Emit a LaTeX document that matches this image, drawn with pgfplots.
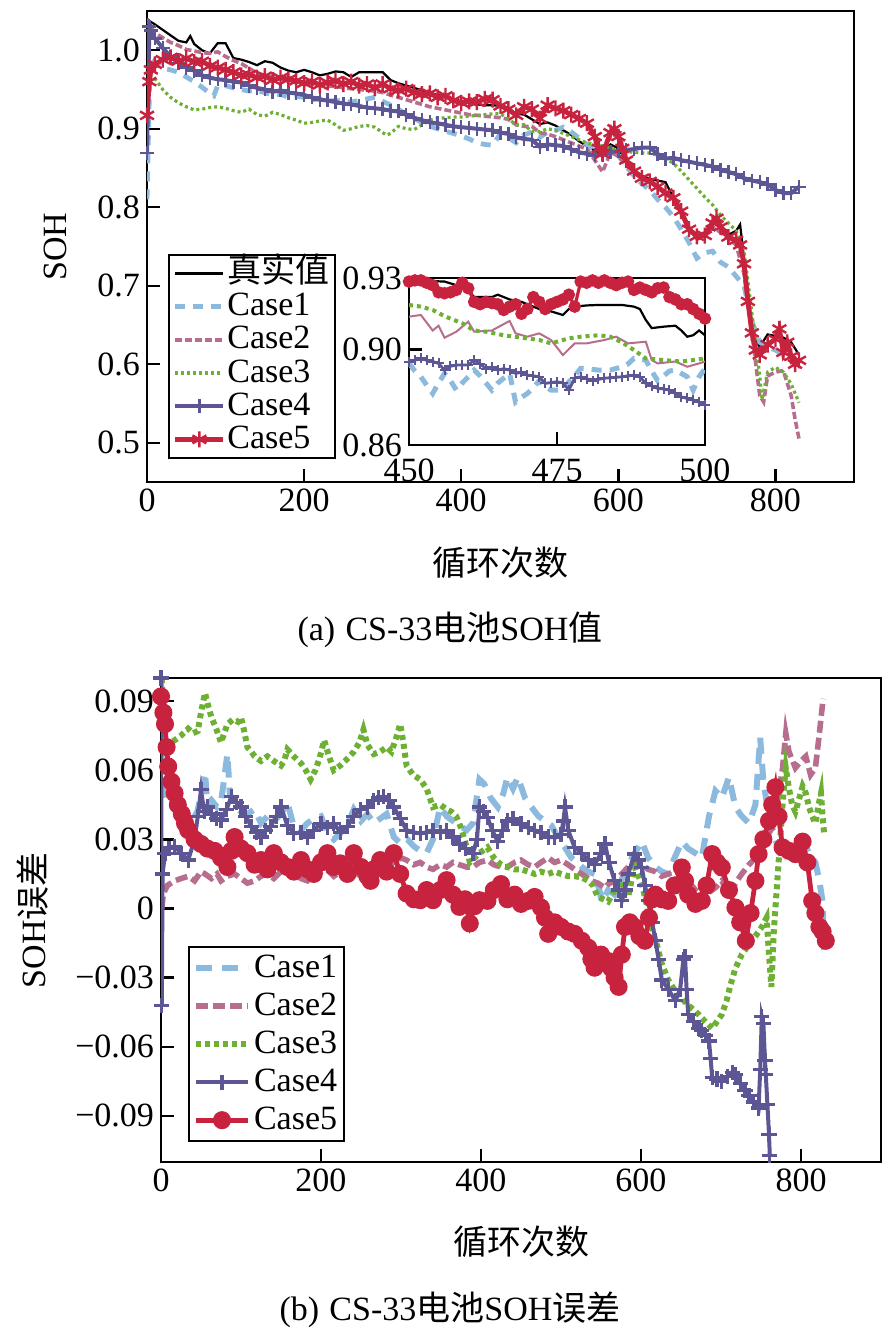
\documentclass[border=0pt]{standalone}
\usepackage{fontspec}
\setmainfont{Liberation Serif}
\newfontfamily\cjk{Noto Sans CJK SC}
\usepackage{pgfplots}
\pgfplotsset{compat=1.18}
\usepackage{pgfplotstable}

\definecolor{cA}{RGB}{140,186,222}
\definecolor{cB}{RGB}{183,110,142}
\definecolor{cC}{RGB}{110,176,52}
\definecolor{cD}{RGB}{92,86,148}
\definecolor{cE}{RGB}{200,35,62}
\newcommand{\fs}{\fontsize{17pt}{19pt}\selectfont}

\pgfplotstableread{
x T c1 c2 c3 c4 c5
0 1.040 0.810 1.040 nan 0.869 0.917
2 nan 0.900 nan 0.965 nan nan
3 nan nan nan nan 1.030 0.960
4 nan 0.990 nan nan nan nan
5 1.036 nan 1.030 nan 1.025 0.975
10 1.033 0.985 1.022 0.964 1.015 0.982
20 1.026 0.977 1.016 0.950 1.003 0.988
30 1.019 0.975 1.010 0.940 0.992 0.991
40 1.012 0.972 1.006 0.933 0.984 0.986
50 1.010 0.966 1.001 0.928 0.978 0.990
55 1.018 nan nan nan nan nan
60 1.008 0.960 0.999 0.924 0.974 0.985
70 1.000 0.953 0.997 0.925 0.968 0.986
80 0.996 0.945 0.996 0.927 0.965 0.980
85 nan 0.942 nan nan nan nan
90 1.009 0.955 0.998 0.928 0.963 0.978
100 1.009 0.955 0.992 0.926 0.962 0.975
110 0.990 0.952 0.987 0.923 0.960 0.972
120 0.988 0.950 0.983 0.921 0.959 0.968
130 0.985 0.948 0.977 0.925 0.955 0.969
140 0.981 0.949 0.971 0.918 0.952 0.965
150 0.986 0.946 0.968 0.916 0.950 0.967
160 0.984 0.943 0.966 0.921 0.947 0.962
170 0.978 0.944 0.964 0.918 0.949 0.965
180 0.974 0.940 0.962 0.914 0.946 0.963
190 0.972 0.941 0.960 0.911 0.945 0.961
200 0.975 0.940 0.959 0.907 0.943 0.958
210 0.972 0.937 0.957 0.908 0.940 0.960
220 0.968 0.938 0.955 0.910 0.937 0.956
230 0.970 0.935 0.954 0.911 0.936 0.959
240 0.973 0.936 0.954 0.905 0.934 0.961
250 0.972 0.935 0.952 0.898 0.932 0.957
260 0.966 0.934 0.951 0.900 0.931 0.960
270 0.972 0.936 0.950 0.903 0.929 0.955
280 0.972 0.938 0.949 0.904 0.927 0.957
290 0.972 0.940 0.948 0.902 0.926 0.952
300 0.972 0.935 0.946 0.895 0.925 0.957
305 nan nan nan 0.892 nan nan
310 0.962 0.930 0.943 0.894 0.923 0.951
320 0.958 0.925 0.940 0.903 0.922 0.949
330 0.955 0.918 0.937 0.900 0.918 0.951
340 0.952 0.913 0.934 0.899 0.914 0.946
350 0.949 0.908 0.931 0.905 0.911 0.944
360 0.946 0.903 0.928 0.911 0.908 0.945
370 0.943 0.900 0.926 0.913 0.907 0.940
380 0.941 0.897 0.924 0.914 0.905 0.942
390 0.938 0.894 0.922 0.915 0.903 0.936
400 0.935 0.891 0.920 0.915 0.902 0.933
410 0.933 0.887 0.918 0.916 0.901 0.935
420 0.931 0.882 0.917 0.917 0.900 0.934
430 0.930 0.880 0.916 0.918 0.899 0.938
440 0.930 0.879 0.915 0.919 0.898 0.937
450 0.929 0.894 0.914 0.919 0.895 0.929
460 0.925 0.889 0.912 0.9125 0.8935 0.925
470 0.919 0.882 0.905 0.905 0.889 0.917
480 0.918 0.892 0.903 0.905 0.887 0.928
490 0.912 0.896 0.903 0.8965 0.886 0.925
500 0.906 0.889 0.895 0.8963 0.877 0.913
510 0.908 0.896 0.893 0.900 0.880 0.930
520 0.904 0.898 0.890 0.898 0.879 0.926
530 0.898 0.902 0.886 0.894 0.878 0.923
540 0.892 0.896 0.882 0.890 0.874 0.918
550 0.884 0.888 0.878 0.886 0.870 0.913
560 0.878 0.880 0.874 0.882 0.868 0.907
570 0.872 0.872 0.860 0.880 0.866 0.890
575 nan nan nan nan nan 0.875
580 0.868 0.866 0.845 0.878 0.868 0.868
590 0.880 0.868 0.870 0.875 0.870 0.895
595 nan nan nan nan nan 0.900
600 0.875 0.866 0.865 0.872 0.872 0.890
605 nan nan nan nan nan 0.875
610 0.858 0.852 0.855 0.871 0.873 0.860
620 0.848 0.840 0.845 0.870 0.874 0.846
630 0.840 0.830 0.836 0.869 0.876 0.837
640 0.836 0.822 0.832 0.869 0.876 0.833
650 0.834 0.810 0.826 0.866 0.868 0.826
660 0.832 0.800 0.818 0.862 0.862 0.818
670 0.812 0.788 0.808 0.856 0.863 0.812
680 0.795 0.772 0.792 0.846 0.860 0.795
690 0.772 0.755 0.770 0.835 0.858 0.772
700 0.765 0.735 0.760 0.824 0.856 0.763
710 0.765 0.742 0.765 0.813 0.854 0.764
720 0.780 0.744 0.775 0.803 0.852 0.780
725 nan nan nan nan nan 0.786
730 0.778 0.730 0.768 0.790 0.848 0.775
740 0.765 0.724 0.760 0.780 0.845 0.762
750 0.770 0.712 0.752 0.770 0.842 0.758
755 0.778 nan nan nan nan 0.752
760 0.735 0.700 0.715 0.745 0.837 0.728
765 0.690 nan nan 0.705 nan 0.680
770 0.655 0.655 0.640 0.665 0.834 0.640
775 0.630 nan nan 0.627 nan 0.618
780 0.622 0.628 0.560 0.585 0.832 0.612
783 nan nan nan 0.555 nan nan
785 nan nan 0.552 nan nan nan
790 0.638 0.622 0.585 0.590 0.829 0.625
800 0.636 0.618 0.590 0.596 0.822 0.632
805 nan nan nan nan nan 0.645
810 0.634 0.612 0.592 0.590 0.818 0.615
815 nan nan nan nan nan 0.628
820 0.628 0.605 0.560 0.575 0.818 0.610
825 nan nan 0.530 nan nan 0.600
830 0.612 0.598 0.505 0.551 0.826 0.605
}\tabA

\pgfplotsset{
  base/.style={scale only axis, tick align=inside, xtick pos=left, ytick pos=left,
    axis line style={line width=1.2pt}, every tick/.style={black, line width=1.2pt},
    major tick length=6.5pt, ticklabel style={font=\fs}, label style={font=\fs},
    legend cell align=left},
}

\begin{document}
\begin{tikzpicture}
\path[use as bounding box] (0pt,0pt) rectangle (447.5pt,-668.5pt);

% ---------- panel (a)
\begin{axis}[base, at={(73.5pt,-5.5pt)}, anchor=north west,
  width=353.5pt, height=235.5pt,
  xmin=0, xmax=900, ymin=0.45, ymax=1.05,
  xtick={0,200,400,600,800}, xticklabels={0,200,400,600,800},
  ytick={0.5,0.6,0.7,0.8,0.9,1.0}, yticklabels={0.5,0.6,0.7,0.8,0.9,1.0},
  xlabel={\cjk 循环次数}, ylabel={SOH},
  xlabel style={at={(axis description cs:0.5,-0.172)}, anchor=center},
  ylabel style={at={(axis description cs:-0.130,0.5)}, anchor=center},
  legend image code/.code={\draw[mark repeat=2,mark phase=2,#1] plot coordinates {(0pt,0pt)(12pt,0pt)(24pt,0pt)};},
  legend style={at={(axis description cs:0.0297,0.0488)}, anchor=south west, font=\fs,
    draw=black, line width=1pt, inner xsep=2pt, inner ysep=1pt, row sep=0pt,
    nodes={inner sep=0.8pt, text height=12pt, text depth=3pt}},
]
\addplot[black, line width=1.1pt] table[x=x, y=T] {\tabA};
\addlegendentry{{\cjk 真实值}}
\addplot[cA, line width=2.4pt, dash pattern=on 5pt off 4pt] table[x=x, y=c1] {\tabA};
\addlegendentry{Case1}
\addplot[cB, line width=1.8pt, dash pattern=on 3.5pt off 1.5pt] table[x=x, y=c2] {\tabA};
\addlegendentry{Case2}
\addplot[cC, line width=1.6pt, dash pattern=on 1.5pt off 1.5pt] table[x=x, y=c3] {\tabA};
\addlegendentry{Case3}
\addplot[cD, line width=2pt, mark=+, mark size=3.5pt, mark options={solid, line width=1.2pt}] table[x=x, y=c4] {\tabA};
\addlegendentry{Case4}
\addplot[cE, line width=2.4pt, mark=asterisk, mark size=4pt, mark options={solid, line width=1.2pt}] table[x=x, y=c5] {\tabA};
\addlegendentry{Case5}
\end{axis}

% ---------- inset
\begin{axis}[base, at={(204.5pt,-139pt)}, anchor=north west,
  width=148pt, height=83.5pt,
  xmin=450, xmax=500, ymin=0.86, ymax=0.93,
  xtick={450,475,500}, xticklabels={450,475,500},
  xticklabel style={yshift=-3.5pt},
  ytick={0.86,0.90,0.93}, yticklabels={0.86,0.90,0.93},
  axis background/.style={fill=white},
]
\addplot[black, line width=1.1pt] coordinates {(450,.929)(452,.929)(454,.9287)(456,.9285)(458,.927)(460,.925)(461,.922)(462,.922)(464,.922)(465,.923)(467,.921)(469,.920)(470,.919)(472,.917)(474,.916)(476,.9145)(477,.917)(478,.918)(480,.9185)(482,.9187)(484,.9187)(486,.9187)(488,.918)(489,.917)(490,.9124)(491,.909)(493,.9096)(495,.910)(496,.908)(497,.9054)(498,.906)(499,.908)(500,.906)};
\addplot[cA, line width=2.5pt, dash pattern=on 5pt off 4pt] coordinates {(450,.8942)(451,.891)(452,.8886)(453,.885)(454,.8816)(455,.886)(456,.890)(457,.887)(458,.883)(459,.886)(460,.8886)(461,.8914)(462,.889)(463,.886)(464,.883)(465,.886)(466,.888)(467,.890)(468,.878)(469,.880)(470,.8816)(471,.884)(472,.887)(473,.8844)(474,.883)(475,.883)(476,.883)(477,.8865)(478,.889)(479,.8921)(480,.892)(482,.8914)(484,.8914)(486,.8928)(487,.894)(488,.8963)(489,.896)(490,.8956)(491,.891)(492,.887)(493,.889)(494,.891)(495,.8914)(496,.890)(497,.8886)(498,.883)(499,.8886)(500,.892)};
\addplot[cB, line width=1pt] coordinates {(450,.9138)(452,.9145)(454,.908)(455,.910)(456,.905)(458,.9075)(460,.9117)(461,.9075)(464,.908)(467,.912)(468,.9068)(470,.9054)(472,.9068)(474,.904)(476,.8977)(478,.9026)(480,.9026)(483,.904)(485,.9054)(487,.9026)(490,.9033)(491,.8956)(492,.8942)(495,.895)(497,.8928)(499,.8942)(500,.895)};
\addplot[cC, line width=2pt, dash pattern=on 2pt off 2pt] coordinates {(450,.9187)(452,.918)(454,.9166)(456,.914)(458,.912)(459,.911)(461,.908)(463,.9075)(466,.906)(469,.905)(472,.904)(474,.9026)(477,.9047)(479,.9054)(482,.906)(484,.9054)(486,.903)(488,.8998)(490,.8963)(493,.8956)(496,.895)(498,.8956)(500,.8963)};
\addplot[cD, line width=1.4pt, mark=+, mark size=2.5pt, mark options={solid, line width=1pt}] coordinates {(450,.895)(451,.8955)(452,.8963)(453,.8955)(454,.895)(455,.8942)(456,.8914)(457,.893)(458,.8935)(459,.8935)(460,.8935)(461,.8956)(462,.894)(463,.892)(464,.8925)(465,.8914)(466,.892)(467,.8914)(468,.890)(469,.8905)(470,.8893)(471,.889)(472,.8886)(473,.8858)(474,.8862)(475,.8865)(476,.886)(477,.883)(478,.888)(479,.8886)(480,.8878)(481,.887)(482,.8875)(483,.888)(484,.8882)(485,.8884)(486,.8886)(487,.889)(488,.8893)(489,.8886)(490,.8858)(491,.8848)(492,.8837)(493,.8835)(494,.883)(495,.8816)(496,.8802)(497,.8795)(498,.8788)(499,.878)(500,.8767)};
\addplot[cE, line width=1.6pt, mark=*, mark size=2.3pt, mark options={solid}] coordinates {(450,.9285)(451,.929)(452,.929)(453,.928)(454,.927)(455,.924)(456,.9236)(457,.924)(458,.925)(459,.928)(460,.9257)(461,.920)(462,.919)(463,.920)(464,.9195)(465,.919)(466,.9166)(467,.918)(468,.919)(469,.915)(470,.917)(471,.922)(472,.920)(473,.917)(474,.919)(475,.920)(476,.921)(477,.923)(478,.918)(479,.9285)(480,.928)(481,.929)(482,.928)(483,.929)(484,.928)(485,.927)(486,.928)(487,.9285)(488,.925)(489,.926)(490,.925)(491,.924)(492,.9257)(493,.926)(494,.922)(495,.921)(496,.919)(497,.919)(498,.917)(499,.915)(500,.913)};
\end{axis}

\node[font=\fs] at (225pt,-315pt) {(a)\hspace{0.3em}CS-33{\cjk 电池}SOH{\cjk 值}};

% ---------- panel (b)
\begin{axis}[base, at={(80.5pt,-339pt)}, anchor=north west,
  width=360pt, height=242pt,
  xmin=0, xmax=900, ymin=-0.11, ymax=0.10,
  xtick={0,200,400,600,800}, xticklabels={0,200,400,600,800},
  ytick={-0.09,-0.06,-0.03,0,0.03,0.06,0.09}, yticklabels={−0.09,−0.06,−0.03,0,0.03,0.06,0.09},
  xlabel={\cjk 循环次数}, ylabel={SOH{\cjk 误差}},
  xlabel style={at={(axis description cs:0.5,-0.165)}, anchor=center},
  ylabel style={at={(axis description cs:-0.179,0.5)}, anchor=center},
  legend image code/.code={\draw[mark repeat=2,mark phase=2,#1] plot coordinates {(0pt,0pt)(13pt,0pt)(26pt,0pt)};},
  legend style={at={(axis description cs:0.0375,0.041)}, anchor=south west, font=\fs,
    draw=black, line width=1pt, inner xsep=2pt, inner ysep=1pt, row sep=0pt,
    nodes={inner sep=1.5pt, text height=12.5pt, text depth=3.5pt}},
]
\addplot[cA, line width=3pt, dash pattern=on 8pt off 5pt] coordinates {(0,0.10)(1,0.06)(3,0.05)(5,0.047)(10,0.045)(17,0.044)(25,0.042)(34,0.043)(45,0.041)(55,0.059)(58,0.045)(63,0.047)(70,0.044)(75,0.046)(83,0.067)(86,0.050)(92,0.044)(100,0.042)(108,0.041)(117,0.043)(125,0.037)(133,0.040)(141,0.038)(150,0.041)(158,0.046)(166,0.0355)(175,0.034)(183,0.037)(191,0.039)(200,0.040)(208,0.033)(216,0.030)(224,0.0326)(233,0.036)(241,0.043)(250,0.038)(258,0.041)(266,0.037)(274,0.039)(282,0.041)(291,0.031)(300,0.028)(308,0.030)(316,0.027)(324,0.025)(332,0.024)(340,0.030)(349,0.044)(357,0.040)(365,0.038)(373,0.036)(382,0.034)(390,0.037)(398,0.056)(404,0.054)(412,0.048)(421,0.044)(428,0.050)(433,0.057)(440,0.052)(446,0.057)(455,0.048)(463,0.044)(472,0.040)(480,0.038)(488,0.036)(496,0.031)(505,0.0265)(513,0.022)(520,0.020)(526,0.018)(534,0.016)(542,0.015)(548,0.008)(551,0.003)(559,0.008)(567,0.006)(575,0.012)(584,0.019)(592,0.024)(601,0.029)(609,0.022)(618,0.018)(626,0.016)(634,0.015)(642,0.022)(651,0.029)(659,0.026)(668,0.024)(676,0.022)(685,0.040)(693,0.051)(701,0.048)(710,0.057)(718,0.044)(726,0.040)(735,0.037)(743,0.045)(749,0.074)(753,0.055)(760,0.040)(768,0.030)(777,0.021)(785,0.025)(793,0.024)(802,0.030)(810,0.024)(818,0.020)(823,0.012)(827,0.003)(829,-0.018)};
\addlegendentry{Case1}
\addplot[cB, line width=2.8pt, dash pattern=on 6pt off 2.5pt] coordinates {(1,0.0)(3,0.0065)(8,0.010)(17,0.012)(25,0.013)(34,0.014)(42,0.012)(50,0.016)(55,0.015)(63,0.013)(70,0.015)(75,0.012)(83,0.014)(92,0.015)(100,0.013)(108,0.011)(117,0.012)(125,0.014)(133,0.015)(141,0.013)(150,0.016)(158,0.018)(166,0.015)(175,0.013)(183,0.012)(191,0.014)(200,0.016)(208,0.0167)(216,0.014)(224,0.016)(233,0.018)(241,0.016)(250,0.014)(258,0.015)(266,0.017)(274,0.016)(282,0.018)(291,0.020)(300,0.022)(307,0.021)(316,0.019)(324,0.020)(332,0.018)(340,0.017)(349,0.019)(357,0.018)(365,0.020)(373,0.019)(382,0.018)(390,0.018)(398,0.020)(408,0.021)(416,0.019)(425,0.018)(433,0.018)(442,0.020)(450,0.021)(459,0.019)(467,0.018)(475,0.020)(484,0.022)(492,0.020)(500,0.021)(509,0.019)(517,0.017)(526,0.015)(534,0.013)(538,0.012)(546,0.011)(555,0.009)(559,0.0106)(567,0.012)(576,0.015)(584,0.018)(592,0.021)(601,0.019)(609,0.017)(618,0.016)(626,0.014)(634,0.015)(642,0.016)(651,0.015)(659,0.012)(668,0.008)(676,0.0033)(685,0.007)(693,0.009)(701,0.012)(710,0.006)(718,0.011)(726,0.015)(735,0.019)(743,0.022)(747,0.024)(755,0.030)(764,0.035)(770,0.045)(777,0.061)(781,0.076)(785,0.068)(793,0.061)(800,0.064)(806,0.066)(812,0.058)(818,0.061)(823,0.076)(827,0.089)(828,0.091)};
\addlegendentry{Case2}
\addplot[cC, line width=3pt, dash pattern=on 2.5pt off 2pt] coordinates {(1,0.10)(3,0.08)(6,0.072)(9,0.0718)(17,0.073)(25,0.075)(34,0.078)(40,0.076)(46,0.077)(50,0.085)(55,0.0935)(59,0.088)(63,0.083)(69,0.078)(75,0.072)(79,0.076)(83,0.080)(90,0.082)(96,0.081)(100,0.083)(104,0.077)(108,0.070)(113,0.068)(117,0.066)(125,0.064)(133,0.066)(141,0.064)(150,0.062)(154,0.064)(158,0.069)(166,0.066)(175,0.063)(181,0.060)(187,0.056)(193,0.060)(198,0.065)(204,0.073)(210,0.066)(216,0.060)(224,0.062)(233,0.065)(241,0.068)(248,0.072)(253,0.0776)(258,0.071)(266,0.067)(274,0.068)(282,0.070)(288,0.068)(294,0.074)(299,0.080)(303,0.072)(307,0.062)(315,0.058)(324,0.056)(332,0.052)(340,0.044)(349,0.045)(357,0.043)(363,0.042)(369,0.040)(375,0.035)(381,0.028)(386,0.020)(392,0.022)(398,0.024)(408,0.0265)(416,0.022)(425,0.019)(433,0.018)(442,0.017)(450,0.017)(459,0.016)(467,0.015)(475,0.016)(484,0.015)(492,0.016)(500,0.015)(509,0.014)(517,0.014)(526,0.0135)(534,0.012)(540,0.010)(546,0.005)(553,0.004)(559,0.003)(567,0.008)(576,0.012)(580,0.008)(584,0.005)(588,0.012)(592,0.018)(597,0.014)(601,0.0106)(607,0.002)(613,-0.008)(620,-0.016)(626,-0.024)(634,-0.031)(643,-0.036)(651,-0.039)(659,-0.042)(666,-0.044)(672,-0.046)(680,-0.049)(686,-0.051)(689,-0.052)(693,-0.050)(697,-0.048)(701,-0.046)(707,-0.040)(712,-0.033)(718,-0.026)(726,-0.020)(735,-0.0155)(743,-0.012)(751,-0.008)(757,-0.004)(760,-0.020)(763,-0.034)(766,-0.010)(770,0.010)(774,0.030)(778,0.050)(781,0.061)(785,0.052)(789,0.045)(793,0.042)(798,0.048)(802,0.053)(806,0.050)(810,0.044)(814,0.040)(818,0.037)(822,0.045)(825,0.050)(827,0.040)(829,0.032)};
\addlegendentry{Case3}
\addplot[cD, line width=2pt, mark=+, mark size=3.8pt, mark options={solid, line width=1.6pt}] coordinates {(0,0.10)(1,-0.042)(2,0.015)(5,0.024)(10,0.026)(17,0.027)(25,0.024)(34,0.021)(42,0.030)(46,0.040)(50,0.0515)(54,0.042)(58,0.044)(63,0.041)(69,0.039)(75,0.0384)(82,0.043)(88,0.0486)(94,0.046)(100,0.044)(106,0.040)(113,0.0355)(119,0.033)(125,0.031)(131,0.034)(137,0.0355)(144,0.040)(150,0.044)(158,0.036)(166,0.0326)(175,0.033)(183,0.031)(191,0.034)(200,0.037)(208,0.035)(216,0.037)(224,0.033)(233,0.0355)(241,0.040)(249,0.0428)(258,0.044)(266,0.047)(272,0.048)(278,0.0486)(285,0.047)(291,0.044)(299,0.039)(307,0.034)(316,0.033)(324,0.0326)(332,0.033)(340,0.034)(349,0.033)(357,0.034)(365,0.031)(373,0.028)(381,0.026)(390,0.024)(395,0.030)(398,0.044)(403,0.042)(408,0.0396)(414,0.034)(421,0.029)(427,0.034)(433,0.038)(440,0.039)(450,0.0367)(459,0.035)(467,0.034)(475,0.033)(484,0.031)(492,0.031)(500,0.032)(503,0.038)(505,0.044)(509,0.034)(517,0.0265)(526,0.024)(534,0.021)(542,0.019)(550,0.024)(555,0.028)(560,0.020)(567,0.012)(572,0.008)(576,0.0033)(580,0.008)(584,0.015)(592,0.0236)(597,0.021)(601,0.0178)(605,0.010)(609,0.0033)(614,-0.006)(618,-0.014)(622,-0.022)(626,-0.031)(634,-0.035)(643,-0.040)(649,-0.035)(653,-0.022)(655,-0.021)(657,-0.035)(659,-0.046)(666,-0.049)(672,-0.052)(676,-0.053)(681,-0.055)(685,-0.0575)(687,-0.065)(689,-0.0735)(695,-0.074)(701,-0.075)(708,-0.073)(714,-0.071)(718,-0.072)(724,-0.076)(730,-0.079)(735,-0.081)(741,-0.084)(747,-0.0866)(749,-0.070)(751,-0.047)(753,-0.050)(755,-0.066)(756,-0.072)(758,-0.085)(760,-0.098)(761,-0.107)};
\addlegendentry{Case4}
\addplot[cE, line width=2.4pt, mark=*, mark size=3.3pt, mark options={solid}] coordinates {(0,0.092)(3,0.085)(5,0.080)(7,0.070)(9,0.0616)(13,0.055)(17,0.050)(21,0.045)(26,0.041)(30,0.037)(34,0.034)(42,0.030)(50,0.028)(58,0.026)(67,0.025)(75,0.022)(83,0.018)(88,0.025)(92,0.031)(100,0.026)(108,0.024)(117,0.019)(125,0.021)(133,0.017)(141,0.024)(150,0.020)(158,0.018)(166,0.016)(175,0.021)(183,0.017)(191,0.015)(200,0.020)(208,0.024)(216,0.018)(224,0.0196)(233,0.015)(241,0.024)(250,0.018)(258,0.014)(262,0.012)(266,0.017)(274,0.021)(282,0.016)(291,0.024)(299,0.015)(307,0.0065)(316,0.004)(324,0.0036)(332,0.008)(340,0.0036)(349,0.008)(357,0.0123)(365,0.006)(373,0.0007)(380,0.004)(386,-0.0065)(392,0.001)(398,0.0036)(408,0.0033)(416,0.008)(425,0.0106)(433,0.004)(442,0.006)(450,0.002)(459,0.0033)(467,0.005)(475,0.0004)(480,-0.004)(484,-0.011)(492,-0.006)(500,-0.008)(509,-0.010)(517,-0.011)(526,-0.014)(534,-0.017)(538,-0.022)(542,-0.0257)(550,-0.020)(559,-0.0228)(563,-0.026)(567,-0.030)(572,-0.034)(576,-0.020)(580,-0.008)(586,-0.006)(592,-0.008)(598,-0.012)(605,-0.014)(610,-0.004)(614,0.004)(618,0.006)(626,0.004)(634,0.0033)(642,0.010)(651,0.0178)(655,0.012)(659,0.006)(668,0.002)(676,0.0033)(682,0.010)(689,0.0236)(695,0.020)(701,0.0178)(710,0.008)(718,0.0004)(724,-0.006)(731,-0.014)(737,-0.002)(743,0.012)(747,0.0236)(753,0.030)(760,0.038)(764,0.045)(768,0.0526)(772,0.040)(777,0.0265)(785,0.025)(793,0.0236)(802,0.029)(808,0.020)(814,0.0033)(818,-0.002)(823,-0.008)(827,-0.010)(831,-0.014)};
\addlegendentry{Case5}
\end{axis}

\node[font=\fs] at (225pt,-655pt) {(b)\hspace{0.3em}CS-33{\cjk 电池}SOH{\cjk 误差}};
\end{tikzpicture}
\end{document}
